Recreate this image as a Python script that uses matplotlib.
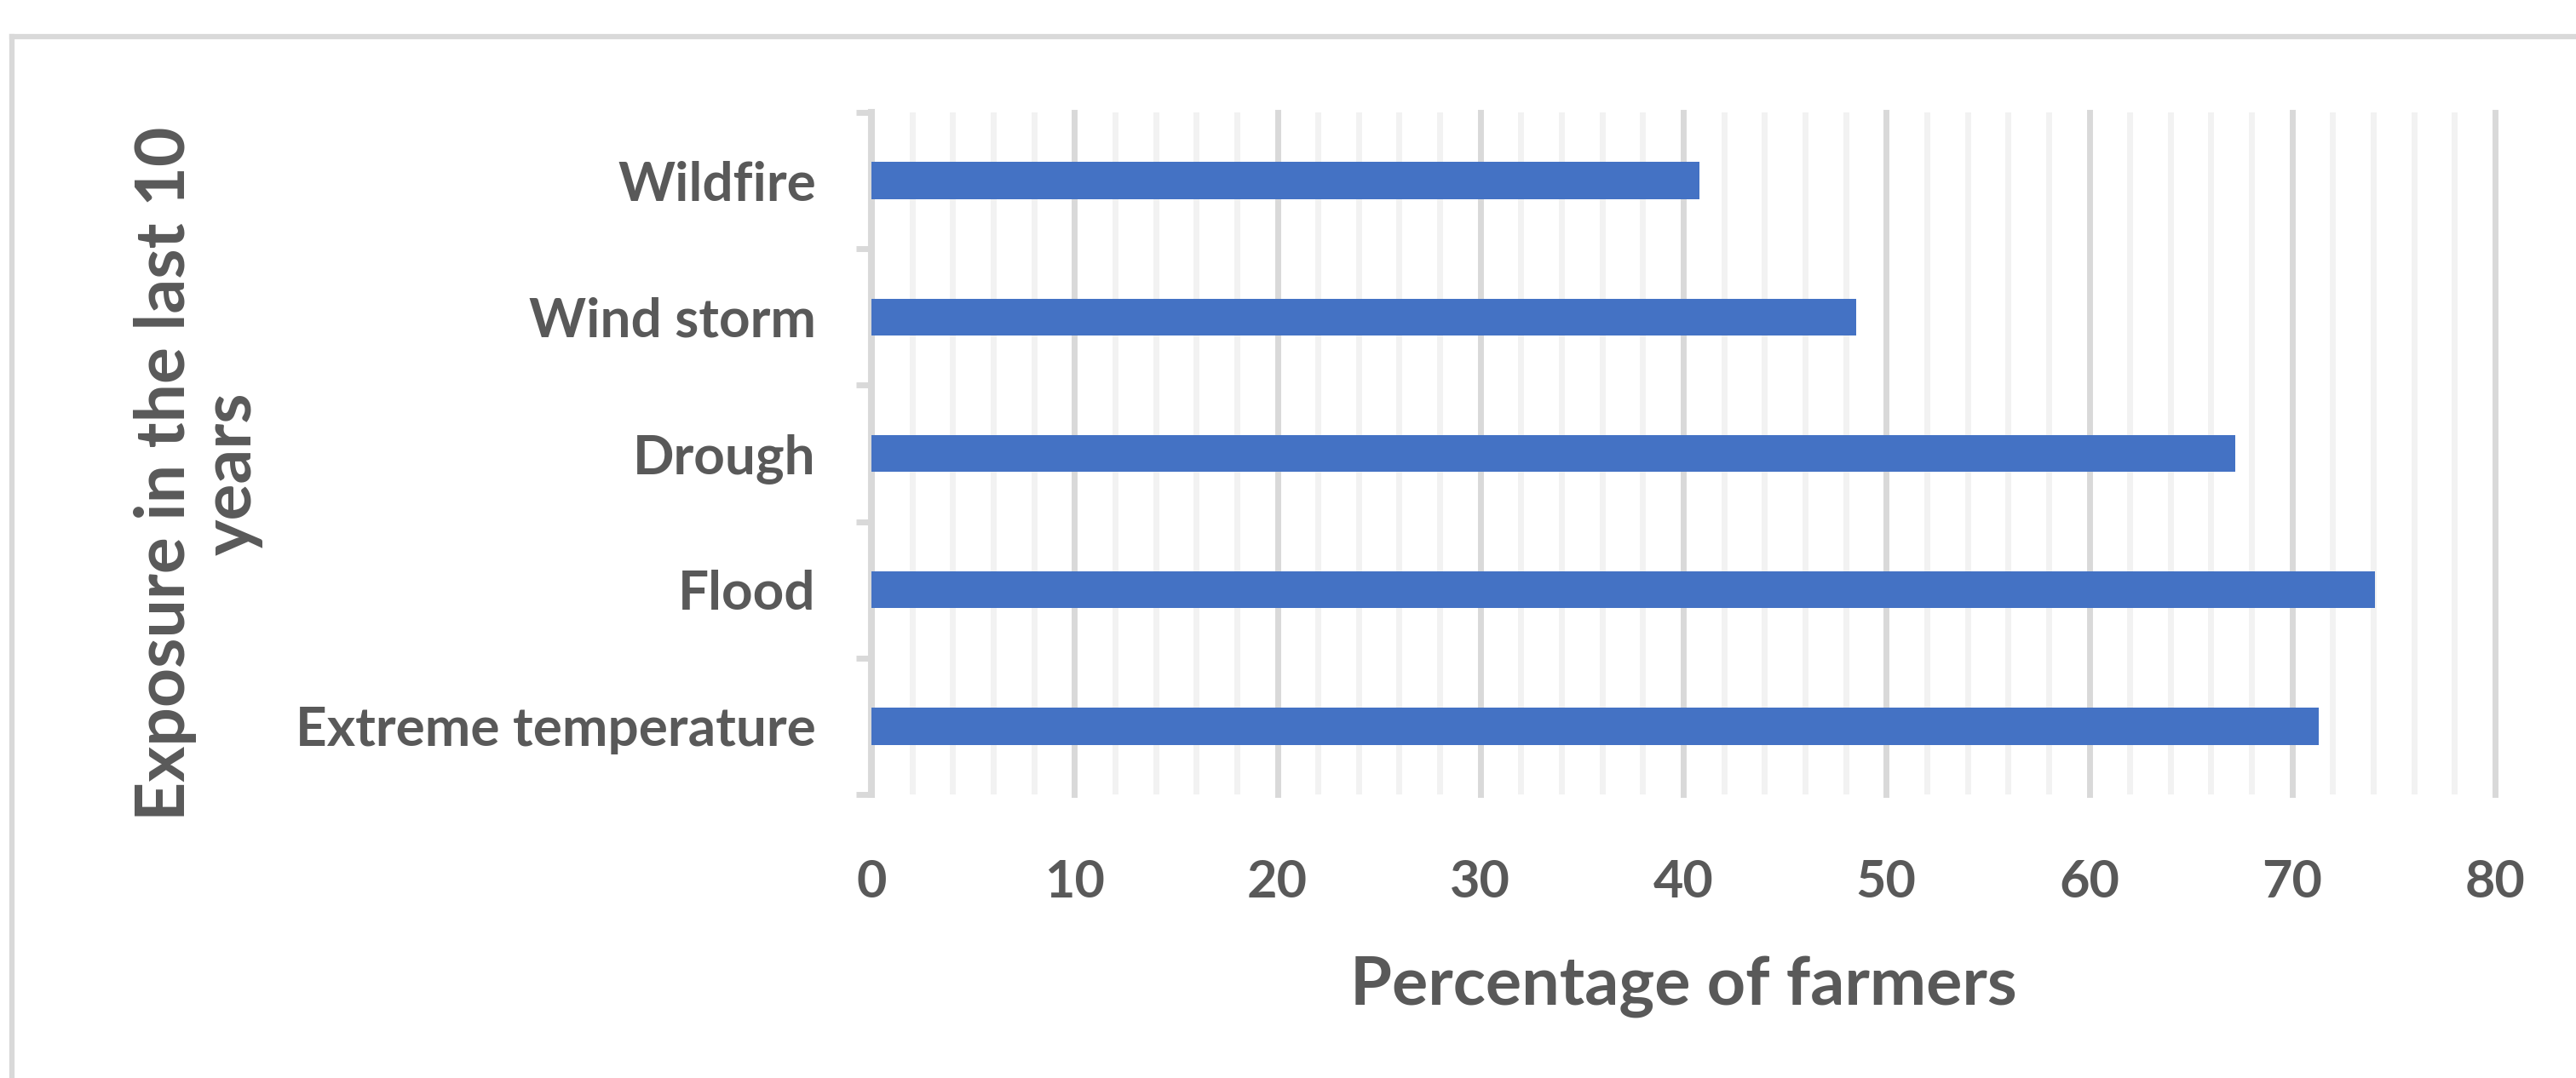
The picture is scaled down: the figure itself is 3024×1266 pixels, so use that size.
import numpy as np
import matplotlib.pyplot as plt
from matplotlib.lines import Line2D

# Data
categories = ["Extreme temperature", "Flood", "Drough", "Wind storm", "Wildfire"]
values = [71.3, 74.1, 67.2, 48.5, 40.8]
xticks = [0, 10, 20, 30, 40, 50, 60, 70, 80]

plt.rcParams['font.family'] = ['Lato', 'DejaVu Sans']
txt = '#595959'
grid_major = '#d9d9d9'
grid_minor = '#f2f2f2'

fig = plt.figure(figsize=(30.24, 12.66), dpi=100)
ax = fig.add_axes([1023/3024, 1 - 933/1266, (2929 - 1023)/3024, (933 - 132)/1266])

y = np.arange(len(categories))
ax.barh(y, values, height=0.27, color='#4472C4', zorder=3)

ax.set_xlim(0, 80)
ax.set_ylim(-0.5, len(categories) - 0.5)

# gridlines: major every 10, minor every 2
ax.set_xticks(xticks)
ax.set_xticks([v for v in range(0, 81, 2) if v % 10 != 0], minor=True)
ax.grid(which='major', axis='x', color=grid_major, lw=5)
ax.grid(which='minor', axis='x', color=grid_minor, lw=5)
ax.set_axisbelow(True)
for ln in ax.get_xgridlines():
    ln.set_clip_on(False)
ax.tick_params(axis='x', which='both', length=0, pad=54, labelsize=44,
               labelcolor=txt)
for lab in ax.get_xticklabels():
    lab.set_fontweight('bold')

# category ticks at boundaries
ax.set_yticks(y)
ax.set_yticklabels(categories, fontsize=46, fontweight='bold', color=txt)
ax.set_yticks(np.arange(-0.5, len(categories), 1.0), minor=True)
ax.tick_params(axis='y', which='major', length=0, pad=47)
ax.tick_params(axis='y', which='minor', length=13, width=5, color=grid_major,
               direction='out')

for s in ['top', 'right', 'bottom']:
    ax.spines[s].set_visible(False)
ax.spines['left'].set_color(grid_major)
ax.spines['left'].set_linewidth(5.8)

ax.set_xlabel("Percentage of farmers", fontsize=57, fontweight='bold', color=txt)
ax.xaxis.set_label_coords(0.5, -0.236)
ax.set_ylabel("Exposure in the last 10\nyears", fontsize=58, fontweight='bold',
              color=txt, linespacing=1.05)
ax.yaxis.set_label_coords(-0.375, 0.47)

# chart area border (only top and left visible in the crop)
fig.add_artist(Line2D([14/3024, 1.0], [1 - 43/1266, 1 - 43/1266],
                      transform=fig.transFigure, color=grid_major, lw=4.5))
fig.add_artist(Line2D([14/3024, 14/3024], [0.0, 1 - 43/1266],
                      transform=fig.transFigure, color=grid_major, lw=4.5))

fig.savefig("out.png", dpi=100, facecolor='white')
